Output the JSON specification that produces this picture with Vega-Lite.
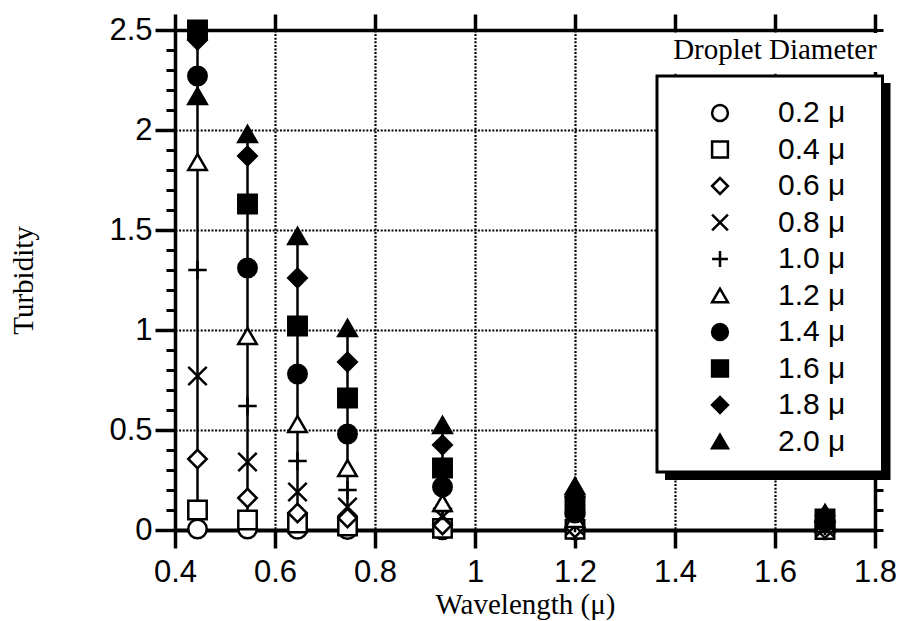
{
  "$schema": "https://vega.github.io/schema/vega-lite/v6.json",
  "width": 700,
  "height": 500,
  "autosize": {"type": "none"},
  "padding": {"left": 175, "top": 30, "right": 30, "bottom": 91},
  "background": "white",
  "data": {"values": [
    {"w": 0.445, "d": "0.2 μ", "t": 0.005}, {"w": 0.445, "d": "0.4 μ", "t": 0.10}, {"w": 0.445, "d": "0.6 μ", "t": 0.355}, {"w": 0.445, "d": "0.8 μ", "t": 0.77}, {"w": 0.445, "d": "1.0 μ", "t": 1.30}, {"w": 0.445, "d": "1.2 μ", "t": 1.84}, {"w": 0.445, "d": "1.4 μ", "t": 2.27}, {"w": 0.445, "d": "1.6 μ", "t": 2.50}, {"w": 0.445, "d": "1.8 μ", "t": 2.45}, {"w": 0.445, "d": "2.0 μ", "t": 2.17},
    {"w": 0.545, "d": "0.2 μ", "t": 0.005}, {"w": 0.545, "d": "0.4 μ", "t": 0.05}, {"w": 0.545, "d": "0.6 μ", "t": 0.16}, {"w": 0.545, "d": "0.8 μ", "t": 0.34}, {"w": 0.545, "d": "1.0 μ", "t": 0.62}, {"w": 0.545, "d": "1.2 μ", "t": 0.97}, {"w": 0.545, "d": "1.4 μ", "t": 1.31}, {"w": 0.545, "d": "1.6 μ", "t": 1.63}, {"w": 0.545, "d": "1.8 μ", "t": 1.87}, {"w": 0.545, "d": "2.0 μ", "t": 1.98},
    {"w": 0.645, "d": "0.2 μ", "t": 0.003}, {"w": 0.645, "d": "0.4 μ", "t": 0.035}, {"w": 0.645, "d": "0.6 μ", "t": 0.085}, {"w": 0.645, "d": "0.8 μ", "t": 0.19}, {"w": 0.645, "d": "1.0 μ", "t": 0.345}, {"w": 0.645, "d": "1.2 μ", "t": 0.53}, {"w": 0.645, "d": "1.4 μ", "t": 0.78}, {"w": 0.645, "d": "1.6 μ", "t": 1.02}, {"w": 0.645, "d": "1.8 μ", "t": 1.26}, {"w": 0.645, "d": "2.0 μ", "t": 1.47},
    {"w": 0.745, "d": "0.2 μ", "t": 0.002}, {"w": 0.745, "d": "0.4 μ", "t": 0.02}, {"w": 0.745, "d": "0.6 μ", "t": 0.06}, {"w": 0.745, "d": "0.8 μ", "t": 0.115}, {"w": 0.745, "d": "1.0 μ", "t": 0.20}, {"w": 0.745, "d": "1.2 μ", "t": 0.31}, {"w": 0.745, "d": "1.4 μ", "t": 0.48}, {"w": 0.745, "d": "1.6 μ", "t": 0.66}, {"w": 0.745, "d": "1.8 μ", "t": 0.84}, {"w": 0.745, "d": "2.0 μ", "t": 1.01},
    {"w": 0.935, "d": "0.2 μ", "t": 0.001}, {"w": 0.935, "d": "0.4 μ", "t": 0.008}, {"w": 0.935, "d": "0.6 μ", "t": 0.025}, {"w": 0.935, "d": "0.8 μ", "t": 0.065}, {"w": 0.935, "d": "1.0 μ", "t": 0.095}, {"w": 0.935, "d": "1.2 μ", "t": 0.135}, {"w": 0.935, "d": "1.4 μ", "t": 0.215}, {"w": 0.935, "d": "1.6 μ", "t": 0.31}, {"w": 0.935, "d": "1.8 μ", "t": 0.425}, {"w": 0.935, "d": "2.0 μ", "t": 0.525},
    {"w": 1.2, "d": "0.2 μ", "t": 0.0005}, {"w": 1.2, "d": "0.4 μ", "t": 0.003}, {"w": 1.2, "d": "0.6 μ", "t": 0.01}, {"w": 1.2, "d": "0.8 μ", "t": 0.02}, {"w": 1.2, "d": "1.0 μ", "t": 0.035}, {"w": 1.2, "d": "1.2 μ", "t": 0.055}, {"w": 1.2, "d": "1.4 μ", "t": 0.085}, {"w": 1.2, "d": "1.6 μ", "t": 0.12}, {"w": 1.2, "d": "1.8 μ", "t": 0.165}, {"w": 1.2, "d": "2.0 μ", "t": 0.22},
    {"w": 1.7, "d": "0.2 μ", "t": 0.0005}, {"w": 1.7, "d": "0.4 μ", "t": 0.002}, {"w": 1.7, "d": "0.6 μ", "t": 0.006}, {"w": 1.7, "d": "0.8 μ", "t": 0.012}, {"w": 1.7, "d": "1.0 μ", "t": 0.02}, {"w": 1.7, "d": "1.2 μ", "t": 0.03}, {"w": 1.7, "d": "1.4 μ", "t": 0.04}, {"w": 1.7, "d": "1.6 μ", "t": 0.055}, {"w": 1.7, "d": "1.8 μ", "t": 0.07}, {"w": 1.7, "d": "2.0 μ", "t": 0.085}
  ]},
  "layer": [
    {
      "data": {"values": [{}]},
      "mark": {"type": "rect", "fill": "white"},
      "encoding": {
        "x": {"datum": 1.37, "type": "quantitative", "scale": {"domain": [0.4, 1.8], "nice": false, "zero": false}, "axis": null},
        "x2": {"datum": 1.83},
        "y": {"datum": 2.29, "type": "quantitative", "scale": {"domain": [0, 2.5], "nice": false}, "axis": null},
        "y2": {"datum": 2.485}
      }
    },
    {
      "data": {"values": [{}]},
      "mark": {"type": "rect", "fill": "black"},
      "encoding": {
        "x": {"datum": 1.38, "type": "quantitative", "axis": null},
        "x2": {"datum": 1.831},
        "y": {"datum": 0.25, "type": "quantitative", "axis": null},
        "y2": {"datum": 2.235}
      }
    },
    {
      "data": {"values": [{}]},
      "mark": {"type": "rect", "fill": "white", "stroke": "black", "strokeWidth": 3},
      "encoding": {
        "x": {"datum": 1.364, "type": "quantitative", "axis": null},
        "x2": {"datum": 1.815},
        "y": {"datum": 0.29, "type": "quantitative", "axis": null},
        "y2": {"datum": 2.27}
      }
    },
    {
      "mark": {"type": "line", "color": "black", "strokeWidth": 2.5},
      "encoding": {
        "x": {
          "field": "w", "type": "quantitative",
          "scale": {"domain": [0.4, 1.8], "nice": false, "zero": false},
          "axis": {
            "orient": "bottom", "values": [0.4, 0.6, 0.8, 1.0, 1.2, 1.4, 1.6, 1.8], "format": "~g",
            "grid": true, "gridDash": [2, 1.6], "gridWidth": 2.2,
            "domainWidth": 4, "tickSize": 18, "tickWidth": 3.5,
            "labelFont": "Liberation Sans", "labelFontSize": 31, "labelPadding": 9, "labelFlush": false,
            "title": "Wavelength (μ)", "titleFont": "Liberation Serif", "titleFontSize": 29, "titleFontWeight": "normal", "titlePadding": 3
          }
        },
        "y": {
          "field": "t", "type": "quantitative",
          "scale": {"domain": [0, 2.5], "nice": false},
          "axis": {
            "orient": "left",
            "values": [0, 0.1, 0.2, 0.3, 0.4, 0.5, 0.6, 0.7, 0.8, 0.9, 1.0, 1.1, 1.2, 1.3, 1.4, 1.5, 1.6, 1.7, 1.8, 1.9, 2.0, 2.1, 2.2, 2.3, 2.4, 2.5],
            "format": "~g",
            "labelExpr": "abs(datum.value * 2 - round(datum.value * 2)) < 0.001 ? datum.label : ''",
            "grid": true, "gridDash": [2, 1.6], "gridWidth": 2.2,
            "gridOpacity": {"condition": {"test": "abs(datum.value * 2 - round(datum.value * 2)) < 0.001", "value": 1}, "value": 0},
            "domainWidth": 3.5,
            "tickSize": {"condition": {"test": "abs(datum.value * 2 - round(datum.value * 2)) < 0.001", "value": 20}, "value": 9},
            "tickWidth": {"condition": {"test": "abs(datum.value * 2 - round(datum.value * 2)) < 0.001", "value": 3.5}, "value": 3},
            "labelFont": "Liberation Sans", "labelFontSize": 31, "labelPadding": 3,
            "title": "Turbidity", "titleFont": "Liberation Serif", "titleFontSize": 29, "titleFontWeight": "normal", "titlePadding": 70
          }
        },
        "detail": {"field": "w", "type": "quantitative"},
        "order": {"field": "t", "type": "quantitative"}
      }
    },
    {
      "mark": {"type": "point", "filled": true, "strokeWidth": 2.5, "opacity": 1, "size": 340},
      "encoding": {
        "x": {
          "field": "w", "type": "quantitative",
          "axis": {"orient": "top", "values": [0.4, 0.6, 0.8, 1.0, 1.2, 1.4, 1.6, 1.8], "labels": false, "grid": false, "domainWidth": 3.5, "tickSize": 16, "tickWidth": 3.5, "title": null}
        },
        "y": {
          "field": "t", "type": "quantitative",
          "axis": {"orient": "right", "values": [0, 0.1, 0.2, 0.3, 0.4, 0.5, 0.6, 0.7, 0.8, 0.9, 1.0, 1.1, 1.2, 1.3, 1.4, 1.5, 1.6, 1.7, 1.8, 1.9, 2.0, 2.1, 2.2, 2.3, 2.4, 2.5], "labels": false, "grid": false, "domainWidth": 3.5, "tickSize": 8, "tickWidth": 3, "title": null}
        },
        "shape": {
          "field": "d", "type": "nominal",
          "scale": {"domain": ["0.2 μ", "0.4 μ", "0.6 μ", "0.8 μ", "1.0 μ", "1.2 μ", "1.4 μ", "1.6 μ", "1.8 μ", "2.0 μ"],
                    "range": ["circle", "square", "diamond", "M-1,-1L1,1M-1,1L1,-1", "M-1,0L1,0M0,-1L0,1", "triangle-up", "circle", "square", "diamond", "triangle-up"]},
          "legend": {"title": null}
        },
        "fill": {
          "field": "d", "type": "nominal",
          "scale": {"domain": ["0.2 μ", "0.4 μ", "0.6 μ", "0.8 μ", "1.0 μ", "1.2 μ", "1.4 μ", "1.6 μ", "1.8 μ", "2.0 μ"],
                    "range": ["white", "white", "white", "white", "white", "white", "black", "black", "black", "black"]},
          "legend": {"title": null}
        },
        "stroke": {
          "field": "d", "type": "nominal",
          "scale": {"domain": ["0.2 μ", "0.4 μ", "0.6 μ", "0.8 μ", "1.0 μ", "1.2 μ", "1.4 μ", "1.6 μ", "1.8 μ", "2.0 μ"],
                    "range": ["black", "black", "black", "black", "black", "black", "black", "black", "black", "black"]},
          "legend": {"title": null}
        }
      }
    },
    {
      "data": {"values": [{}]},
      "mark": {"type": "text", "text": "Droplet Diameter", "font": "Liberation Serif", "fontSize": 29, "color": "black"},
      "encoding": {
        "x": {"datum": 1.6, "type": "quantitative", "axis": null},
        "y": {"datum": 2.4, "type": "quantitative", "axis": null}
      }
    }
  ],
  "resolve": {"axis": {"x": "independent", "y": "independent"}},
  "config": {
    "view": {"stroke": null},
    "axis": {"domainColor": "black", "tickColor": "black", "labelColor": "black", "titleColor": "black", "gridColor": "black"},
    "legend": {
      "orient": "none", "legendX": 530, "legendY": 68,
      "padding": 0,
      "labelFont": "Liberation Sans", "labelFontSize": 30, "labelColor": "black", "labelLimit": 300,
      "symbolSize": 250, "symbolStrokeWidth": 2.5,
      "rowPadding": 6.5, "labelOffset": 43, "symbolOffset": 0
    }
  }
}
